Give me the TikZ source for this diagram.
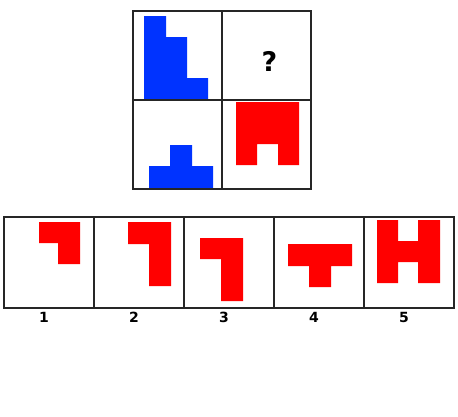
\documentclass[tikz,border=0pt]{standalone}
\usepackage{fontspec}
\setmainfont{DejaVu Sans}
\definecolor{puzzleblue}{RGB}{0,51,255}
\definecolor{puzzlered}{HTML}{FF0000}
\tikzset{
        cell/.style={draw=black!85, line width=2pt, minimum width=89pt, minimum height=89pt, inner sep=0pt},
        opt_cell/.style={cell, minimum width=90pt, minimum height=90.5pt},
        blue_piece/.style={fill=puzzleblue},
        red_piece/.style={fill=puzzlered},
        opt_label/.style={font=\bfseries\fontsize{14}{14}\selectfont},
        q_mark/.style={font=\bfseries\fontsize{27}{27}\selectfont}
    }

\begin{document}
\begin{tikzpicture}[x=1pt, y=-1pt]
    \useasboundingbox (0,0) rectangle (458,416);
    % pieces in the matrix
    \fill[blue_piece] (144,16) -- (166,16) -- (166,37) -- (187,37) -- (187,78) -- (208,78)
        -- (208,100) -- (144,100) -- cycle;
    \fill[blue_piece] (170,145) -- (192,145) -- (192,166) -- (213,166) -- (213,188)
        -- (149,188) -- (149,166) -- (170,166) -- cycle;
    \fill[red_piece] (236,102) -- (299,102) -- (299,165) -- (278,165) -- (278,144)
        -- (257,144) -- (257,165) -- (236,165) -- cycle;
    % pieces in the answers
    \fill[red_piece] (39,222) -- (80,222) -- (80,264) -- (58,264) -- (58,243) -- (39,243) -- cycle;
    \fill[red_piece] (128,222) -- (171,222) -- (171,286) -- (149,286) -- (149,244) -- (128,244) -- cycle;
    \fill[red_piece] (200,238) -- (243,238) -- (243,301) -- (221,301) -- (221,259) -- (200,259) -- cycle;
    \fill[red_piece] (288,244) -- (352,244) -- (352,266) -- (331,266) -- (331,287) -- (309,287)
        -- (309,266) -- (288,266) -- cycle;
    \fill[red_piece] (377,220) -- (398,220) -- (398,241) -- (418,241) -- (418,220) -- (440,220)
        -- (440,283) -- (418,283) -- (418,262) -- (398,262) -- (398,283) -- (377,283) -- cycle;
    % matrix
    \node[cell] (m11) at (177.5,55) {};
    \node[cell] (m12) at (266.5,55) {};
    \node[cell] (m21) at (177.5,144.5) {};
    \node[cell] (m22) at (266.5,144.5) {};
    \node[q_mark] (qmark) at (269.5,61.5) {?};
    % answers
    \foreach \i in {1,...,5} {
        \node[opt_cell] (opt\i) at ({90*\i-41}, 262.5) {};
        \node[opt_label] (lab\i) at ({90*\i-46}, 317) {\i};
    }
\end{tikzpicture}
\end{document}
